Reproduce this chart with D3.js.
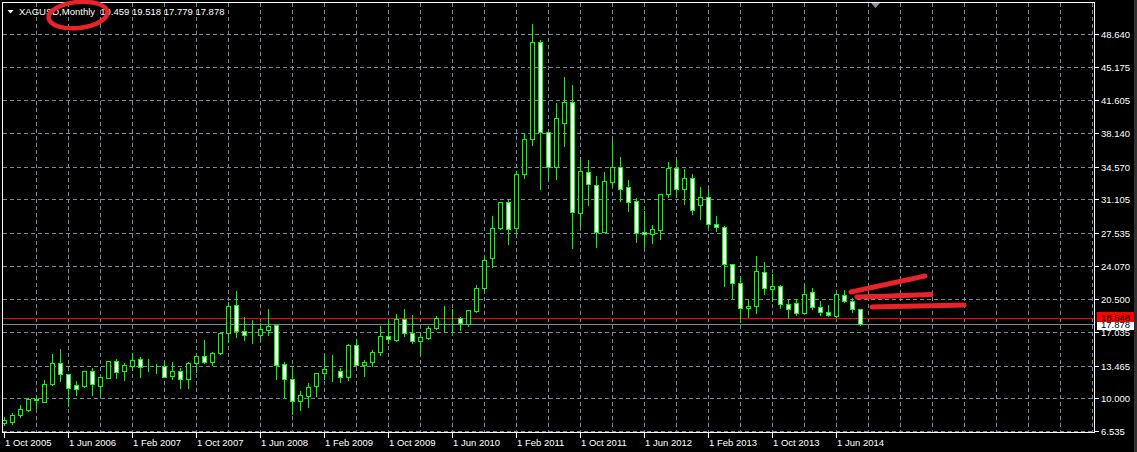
<!DOCTYPE html>
<html>
<head>
<meta charset="utf-8">
<script src="https://cdn.jsdelivr.net/npm/d3@7"></script>
<style>
  html, body { margin: 0; padding: 0; background: #000; }
  svg { display: block; }
  text { font-family: "Liberation Sans", Arial, sans-serif; font-size: 9.5px; }
</style>
</head>
<body>
<svg id="chart" width="1137" height="452"></svg>
<script>
// ---- data (monthly XAGUSD, Oct 2005 .. Sep 2014) ----
const symbol = "XAGUSD,Monthly";
const months = d3.timeMonth.range(new Date(2005, 9, 1), new Date(2014, 9, 1));
const open  = [7.38,7.52,8.23,8.76,9.85,9.64,11.49,13.72,12.55,11.38,11.31,12.90,11.34,12.19,13.96,12.93,13.46,14.14,13.43,13.40,13.43,12.37,12.90,12.02,13.72,14.49,13.89,14.78,16.90,19.90,17.17,16.82,16.75,17.25,17.75,13.61,12.05,9.75,10.28,11.34,12.66,12.93,12.90,12.29,15.62,13.50,13.89,14.88,16.61,16.19,18.38,16.90,16.11,16.43,17.43,18.58,18.59,18.55,17.85,19.29,21.67,24.85,28.03,30.79,28.03,33.76,37.47,47.76,38.28,34.57,39.23,41.43,29.69,33.97,32.59,27.67,32.98,34.50,32.38,30.93,27.64,27.40,27.85,31.64,34.40,32.20,33.34,30.51,31.32,28.46,28.14,24.22,22.20,19.55,19.79,23.37,21.56,21.91,20.01,20.08,19.08,21.25,19.66,19.12,18.76,20.93,20.29,19.459];
const high  = [8.02,8.41,9.26,10.00,10.17,11.94,14.70,15.23,12.60,11.84,12.95,13.19,12.26,14.00,14.20,13.72,14.78,14.42,14.14,13.64,13.85,13.85,13.19,13.85,14.52,16.19,14.95,16.95,20.22,21.38,18.66,18.31,17.96,19.44,17.80,13.89,13.08,10.78,11.59,12.70,14.60,14.60,13.19,15.73,16.26,14.07,15.13,17.67,18.17,18.94,19.47,18.84,16.96,17.67,18.73,19.79,19.47,18.66,19.40,22.02,24.96,29.34,30.85,31.14,34.14,38.11,49.70,48.01,38.30,41.36,44.05,43.23,35.63,35.28,33.58,33.97,37.40,35.63,33.16,31.22,29.87,28.38,31.70,35.03,35.38,34.32,33.79,32.38,32.17,29.37,28.28,24.25,23.01,20.50,25.10,24.46,23.15,22.02,20.43,20.50,22.13,21.70,20.32,19.90,21.31,21.49,20.61,19.518];
const low   = [7.17,7.28,8.05,8.66,8.94,9.60,11.45,11.84,9.19,10.35,11.23,10.35,10.35,12.15,12.19,11.94,13.01,12.29,12.90,12.66,12.23,12.05,11.06,11.06,12.82,13.72,13.54,14.72,16.01,16.54,16.19,15.90,16.19,16.72,12.05,10.17,8.34,8.76,9.11,10.28,12.05,11.87,11.76,11.94,13.50,12.40,13.46,14.60,15.84,16.08,16.61,15.90,14.60,16.26,17.40,17.18,17.07,17.25,17.70,19.19,21.56,23.90,27.93,26.34,27.57,33.40,36.87,32.20,33.23,33.26,36.79,25.98,28.14,30.51,26.08,27.60,32.55,30.96,29.90,26.61,26.00,26.44,26.87,31.39,31.39,30.58,29.52,29.02,28.14,27.78,21.95,20.67,18.13,18.66,19.08,21.07,20.36,19.55,18.55,18.84,19.02,19.47,18.87,18.76,18.66,20.25,19.19,17.779];
const close = [7.65,8.23,8.87,9.93,9.90,11.49,13.72,12.55,11.06,10.96,12.90,11.49,12.23,13.96,12.82,13.54,14.07,13.36,13.40,13.43,12.29,12.90,12.02,13.72,14.49,13.89,14.78,16.90,19.79,17.17,16.75,16.83,17.32,17.67,13.54,12.02,9.75,10.35,11.20,12.66,13.08,12.95,12.29,15.62,13.54,13.85,14.91,16.61,16.26,18.38,16.90,16.11,16.47,17.43,18.55,18.60,18.60,17.96,19.34,21.67,24.67,28.03,30.79,27.93,33.76,37.47,47.76,38.28,34.57,39.70,41.43,29.79,34.11,32.70,27.67,33.02,34.50,32.17,30.86,27.57,27.40,27.93,31.64,34.40,32.20,33.34,29.97,31.32,28.49,28.20,24.22,22.20,19.55,19.79,23.47,21.73,21.88,19.97,19.44,19.08,21.03,19.66,19.12,18.81,21.03,20.29,19.44,17.878];
const priceTicks = [6.535, 10.000, 13.465, 17.035, 20.500, 24.070, 27.535, 31.105, 34.570, 38.140, 41.605, 45.175, 48.640];
const hLinePrice = 18.548;   // user horizontal line
const bidPrice = 17.878;     // current bid
const dateLabelEvery = 8;    // months between axis labels

// ---- layout ----
const svg = d3.select("#chart");
const W = 1137, H = 452;
const plot = { left: 3, top: 3, right: 1095, bottom: 433 };
const GREEN = "#00ff00", GRID = "#778899";

svg.append("rect").attr("width", W).attr("height", H).attr("fill", "#000");
svg.append("rect").attr("x", 1134).attr("y", 0).attr("width", 3).attr("height", H).attr("fill", "#303030");

const x = d3.scaleLinear().domain([0, months.length - 1]).range([4, 4 + 8 * (months.length - 1)]);
const y = d3.scaleLinear().domain([6.535, 48.640]).range([431, 34]);
const px = v => Math.round(x(v));
const py = v => Math.round(y(v));

svg.append("clipPath").attr("id", "clip").append("rect")
  .attr("x", plot.left).attr("y", plot.top)
  .attr("width", plot.right - plot.left).attr("height", plot.bottom - plot.top);

const g = svg.append("g").attr("clip-path", "url(#clip)");

// grid
const gridIdx = d3.range(4, 140, 4).filter(i => x(i) < plot.right);
g.selectAll("line.vgrid").data(gridIdx).join("line")
  .attr("x1", d => px(d) + 0.5).attr("x2", d => px(d) + 0.5)
  .attr("y1", plot.top).attr("y2", plot.bottom)
  .attr("stroke", GRID).attr("stroke-dasharray", "4,3");
g.selectAll("line.hgrid").data(priceTicks).join("line")
  .attr("x1", plot.left).attr("x2", plot.right)
  .attr("y1", d => py(d) + 0.5).attr("y2", d => py(d) + 0.5)
  .attr("stroke", GRID).attr("stroke-dasharray", "4,3");

// horizontal lines
g.append("line").attr("x1", plot.left).attr("x2", plot.right)
  .attr("y1", py(bidPrice) + 0.5).attr("y2", py(bidPrice) + 0.5).attr("stroke", GRID);
g.append("line").attr("x1", plot.left).attr("x2", plot.right)
  .attr("y1", py(hLinePrice) + 0.5).attr("y2", py(hLinePrice) + 0.5).attr("stroke", "#ff0000");

// candles
const idx = d3.range(months.length);
const candles = g.selectAll("g.candle").data(idx).join("g");
candles.append("line")
  .attr("x1", i => px(i) + 0.5).attr("x2", i => px(i) + 0.5)
  .attr("y1", i => py(high[i])).attr("y2", i => py(low[i]) + 1)
  .attr("stroke", GREEN);
candles.append("rect")
  .attr("x", i => px(i) - 2 + 0.5).attr("width", 4)
  .attr("y", i => py(Math.max(open[i], close[i])) + 0.5)
  .attr("height", i => py(Math.min(open[i], close[i])) - py(Math.max(open[i], close[i])))
  .attr("fill", i => close[i] >= open[i] ? "#000" : "#fff")
  .attr("stroke", GREEN);

// annotations (red freehand strokes)
const RED = "#e8232b";
const strokes = [
  [[851, 292], [888, 284], [925, 276]],
  [[857, 297], [893, 296], [931, 294.5]],
  [[872, 307], [918, 306], [964, 305]]
];
g.selectAll("path.ann").data(strokes).join("path")
  .attr("d", d3.line().curve(d3.curveBasis))
  .attr("fill", "none").attr("stroke", RED).attr("stroke-width", 5).attr("stroke-linecap", "round");

// frame
svg.append("rect").attr("x", plot.left - 0.5).attr("y", plot.top - 0.5)
  .attr("width", plot.right - plot.left).attr("height", plot.bottom - plot.top)
  .attr("fill", "none").attr("stroke", "#fff");

// shift marker
svg.append("path").attr("d", "M871,3 L880,3 L875.5,8 Z").attr("fill", "#8595a8");

// right price axis
svg.selectAll("line.ytick").data(priceTicks).join("line")
  .attr("x1", plot.right).attr("x2", plot.right + 4)
  .attr("y1", d => py(d) + 0.5).attr("y2", d => py(d) + 0.5).attr("stroke", "#fff");
svg.selectAll("text.ylab").data(priceTicks).join("text")
  .attr("x", 1101).attr("y", d => py(d) + 4)
  .attr("fill", "#fff").text(d => d3.format(".3f")(d));

// bid label (white) and line label (red)
svg.append("rect").attr("x", 1097).attr("y", py(bidPrice) - 5).attr("width", 37).attr("height", 11).attr("fill", "#fff");
svg.append("text").attr("x", 1101).attr("y", py(bidPrice) + 4).attr("fill", "#000").text(d3.format(".3f")(bidPrice));
svg.append("rect").attr("x", 1097).attr("y", py(hLinePrice) - 6).attr("width", 37).attr("height", 10).attr("fill", "#ff0000");
svg.append("text").attr("x", 1101).attr("y", py(hLinePrice) + 3).attr("fill", "#000").text(d3.format(".3f")(hLinePrice));

// bottom date axis
const fmt = d3.timeFormat("%-d %b %Y");
const labIdx = idx.filter(i => i % dateLabelEvery === 0);
svg.selectAll("line.xtick").data(labIdx).join("line")
  .attr("x1", i => px(i) + 0.5).attr("x2", i => px(i) + 0.5)
  .attr("y1", plot.bottom).attr("y2", plot.bottom + 5).attr("stroke", "#fff");
svg.selectAll("text.xlab").data(labIdx).join("text")
  .attr("x", i => px(i) + 1).attr("y", 446)
  .attr("fill", "#fff").text(i => fmt(months[i]));

// header
svg.append("path").attr("d", "M7.5,10 L13.5,10 L10.5,13.5 Z").attr("fill", "#fff");
const last = months.length - 1;
svg.append("text").attr("x", 19).attr("y", 15).attr("fill", "#fff")
  .style("white-space", "pre")
  .text(symbol + "  " + [open[last], high[last], low[last], close[last]].map(d3.format(".3f")).join(" "));

// red ellipse annotation around the timeframe
svg.append("ellipse").attr("cx", 78).attr("cy", 15).attr("rx", 29.5).attr("ry", 13)
  .attr("transform", "rotate(-6 78 15)")
  .attr("fill", "none").attr("stroke", RED).attr("stroke-width", 4.5);
</script>
</body>
</html>
